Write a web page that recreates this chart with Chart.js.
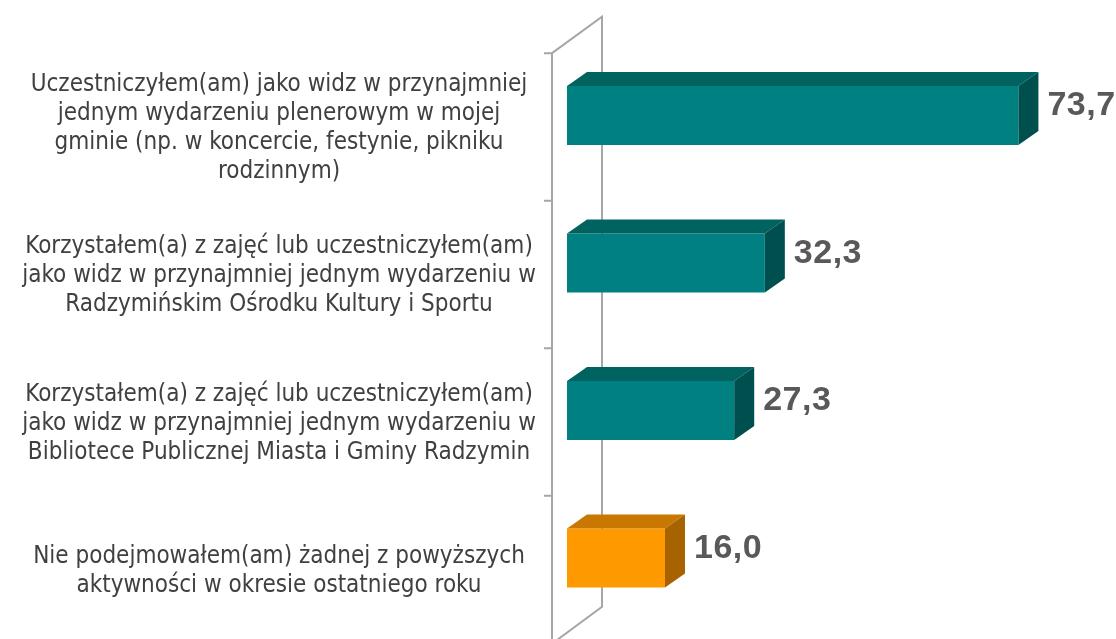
<!DOCTYPE html>
<html>
<head>
<meta charset="utf-8">
<script src="https://cdn.jsdelivr.net/npm/chart.js@4/dist/chart.umd.min.js"></script>
<style>
  html, body { margin: 0; padding: 0; background: #ffffff; }
  canvas { display: block; }
</style>
</head>
<body>
<canvas id="chart" width="1116" height="639"></canvas>
<script>
// Kategorie (etykiety wielowierszowe)
const categories = [
    ['Uczestniczyłem(am) jako widz w przynajmniej', 'jednym wydarzeniu plenerowym w mojej', 'gminie (np. w koncercie, festynie, pikniku', 'rodzinnym)'],
    ['Korzystałem(a) z zajęć lub uczestniczyłem(am)', 'jako widz w przynajmniej jednym wydarzeniu w', 'Radzymińskim Ośrodku Kultury i Sportu'],
    ['Korzystałem(a) z zajęć lub uczestniczyłem(am)', 'jako widz w przynajmniej jednym wydarzeniu w', 'Bibliotece Publicznej Miasta i Gminy Radzymin'],
    ['Nie podejmowałem(am) żadnej z powyższych', 'aktywności w okresie ostatniego roku']
];

// Wartości (%)
const values = [73.7, 32.3, 27.3, 16.0];

// Kolory: przód, góra, bok
const frontColors = ['#008080', '#008080', '#008080', '#ff9900'];
const topColors = ['#006360', '#006360', '#006360', '#c87800'];
const sideColors = ['#004f4f', '#004f4f', '#004f4f', '#a66300'];

// Przesunięcie głębi 3D
const depthX = 20;
const depthY = -14;

// Ściany wykresu (przednia i tylna płaszczyzna)
const wallsPlugin = {
    id: 'walls',
    beforeDatasetsDraw(chart) {
        const ctx = chart.ctx;
        const x = chart.scales.x;
        const zero = x.getPixelForValue(0);
        const frontX = zero - 15;
        const backX = zero + 35;
        const top = chart.chartArea.top;
        const bottom = chart.chartArea.bottom;
        const step = (bottom - top) / categories.length;

        ctx.save();
        ctx.strokeStyle = '#a6a6a6';
        ctx.lineWidth = 2;
        ctx.beginPath();
        ctx.moveTo(frontX, top + 11.4);
        ctx.lineTo(frontX, bottom + 12);
        ctx.moveTo(frontX, top + 11.4);
        ctx.lineTo(backX, top - 25);
        ctx.lineTo(backX, bottom - 25);
        ctx.lineTo(frontX, bottom + 12);
        for (let i = 0; i < categories.length; i++) {
            const ty = top + 11.4 + i * step;
            ctx.moveTo(frontX - 8, ty);
            ctx.lineTo(frontX, ty);
        }
        ctx.stroke();
        ctx.restore();
    },
    afterDatasetsDraw(chart) {
        const ctx = chart.ctx;
        const meta = chart.getDatasetMeta(0);
        ctx.save();
        meta.data.forEach(function(bar, i) {
            const t = bar.y - bar.height / 2;
            const b = bar.y + bar.height / 2;
            // góra
            ctx.fillStyle = topColors[i];
            ctx.beginPath();
            ctx.moveTo(bar.base, t);
            ctx.lineTo(bar.base + depthX, t + depthY);
            ctx.lineTo(bar.x + depthX, t + depthY);
            ctx.lineTo(bar.x, t);
            ctx.closePath();
            ctx.fill();
            // bok
            ctx.fillStyle = sideColors[i];
            ctx.beginPath();
            ctx.moveTo(bar.x, t);
            ctx.lineTo(bar.x + depthX, t + depthY);
            ctx.lineTo(bar.x + depthX, b + depthY);
            ctx.lineTo(bar.x, b);
            ctx.closePath();
            ctx.fill();
            // wartość
            ctx.fillStyle = '#595959';
            ctx.font = 'bold 34px "Liberation Sans", Arial, sans-serif';
            ctx.letterSpacing = '0.5px';
            ctx.textAlign = 'left';
            ctx.textBaseline = 'middle';
            ctx.fillText(values[i].toFixed(1).replace('.', ','), bar.x + 29, bar.y + depthY / 2 - 2.5);
        });
        ctx.restore();
    },
    afterDraw(chart) {
        // etykiety kategorii, wyśrodkowane na przedniej płaszczyźnie
        const ctx = chart.ctx;
        const x = chart.scales.x;
        const y = chart.scales.y;
        const cx = x.getPixelForValue(0) - 288;
        const lineH = 29;
        ctx.save();
        ctx.fillStyle = '#404040';
        ctx.font = '24px "Liberation Sans Narrow", "DejaVu Sans Condensed", sans-serif';
        ctx.textAlign = 'center';
        ctx.textBaseline = 'middle';
        categories.forEach(function(lines, i) {
            const cy = y.getPixelForValue(i) + 13;
            const start = cy - (lines.length - 1) * lineH / 2;
            lines.forEach(function(line, j) {
                ctx.fillText(line, cx, start + j * lineH);
            });
        });
        ctx.restore();
    }
};

const ctx = document.getElementById('chart').getContext('2d');
new Chart(ctx, {
    type: 'bar',
    data: {
        labels: categories.map(function(c) { return c.join(' '); }),
        datasets: [{
            data: values,
            backgroundColor: frontColors,
            borderWidth: 0,
            barPercentage: 0.4,
            categoryPercentage: 1
        }]
    },
    options: {
        indexAxis: 'y',
        responsive: false,
        animation: false,
        devicePixelRatio: 1,
        layout: {
            padding: { left: 567, right: 59, top: 41.75, bottom: 7.25 }
        },
        plugins: {
            legend: { display: false },
            tooltip: { enabled: false }
        },
        scales: {
            x: { display: false, min: 0, max: 80 },
            y: { display: false }
        }
    },
    plugins: [wallsPlugin]
});
</script>
</body>
</html>
